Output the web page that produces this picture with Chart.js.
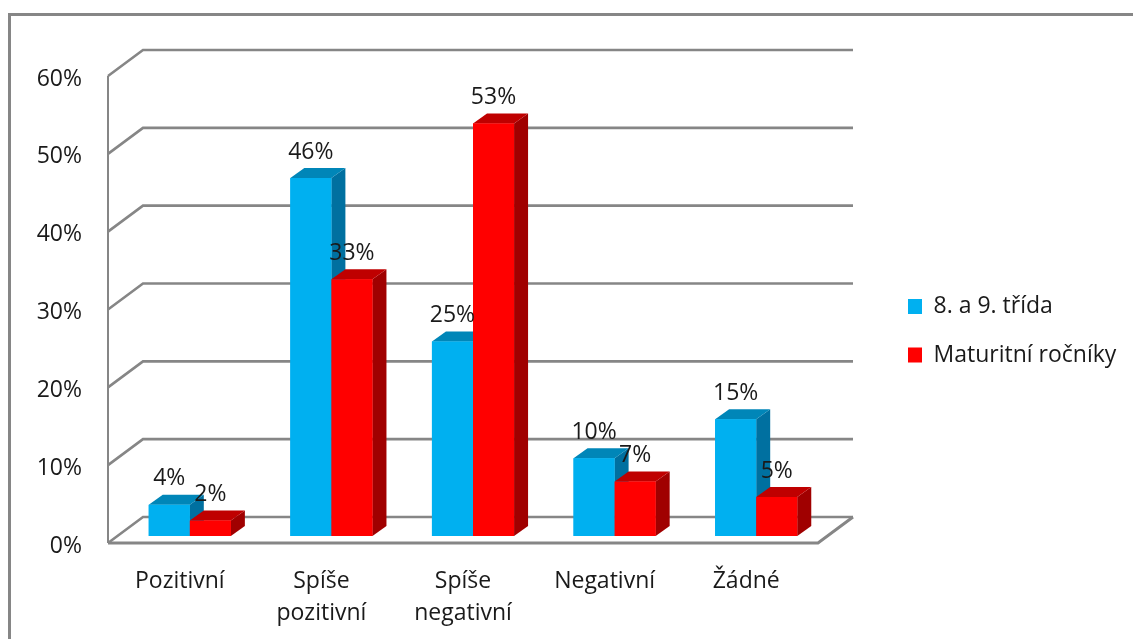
<!DOCTYPE html>
<html>
<head>
<meta charset="utf-8">
<script src="https://cdn.jsdelivr.net/npm/chart.js@4"></script>
<style>
  html, body { margin: 0; padding: 0; background: #fff; }
  canvas { display: block; }
</style>
</head>
<body>
<canvas id="chart" width="1133" height="639"></canvas>
<script>
var categories = ['Pozitivní', ['Spíše', 'pozitivní'], ['Spíše', 'negativní'], 'Negativní', 'Žádné'];
var seriesNames = ['8. a 9. třída', 'Maturitní ročníky'];
var grade89 = [4, 46, 25, 10, 15];
var graduating = [2, 33, 53, 7, 5];
var yTicks = [0, 10, 20, 30, 40, 50, 60];

var FONT = '"Open Sans"';
var FONT_SIZE = 23;
var GRID = '#868686';
var TEXT = '#1a1a1a';
var faces = [
    {front: '#00B0F0', top: '#0086B8', side: '#0070A0'},
    {front: '#FF0000', top: '#BF0000', side: '#A00000'}
];

function poly(ctx, pts, color) {
    ctx.fillStyle = color;
    ctx.beginPath();
    ctx.moveTo(pts[0][0], pts[0][1]);
    for (var i = 1; i < pts.length; i++) ctx.lineTo(pts[i][0], pts[i][1]);
    ctx.closePath();
    ctx.fill();
}

// frame and the 3D walls behind the bars
var wallsPlugin = {
    id: 'walls',
    beforeDatasetsDraw: function(chart) {
        var ctx = chart.ctx, y = chart.scales.y, area = chart.chartArea;
        var fl = area.left - 11, fr = area.right - 9;
        ctx.save();
        ctx.strokeStyle = GRID;
        ctx.lineWidth = 3;
        ctx.beginPath();
        ctx.moveTo(1133, 14.5);
        ctx.lineTo(9.5, 14.5);
        ctx.lineTo(9.5, 639);
        ctx.stroke();

        ctx.lineWidth = 2.6;
        yTicks.forEach(function(v) {
            var fy = y.getPixelForValue(v) + 7;
            ctx.beginPath();
            ctx.moveTo(fl, fy);
            ctx.lineTo(fl + 35, fy - 26);
            ctx.lineTo(fr + 35, fy - 26);
            ctx.stroke();
        });
        var y0 = y.getPixelForValue(0) + 7, y60 = y.getPixelForValue(60) + 7;
        ctx.lineWidth = 2;
        ctx.beginPath();
        ctx.moveTo(fl, y60);
        ctx.lineTo(fl, y0);
        ctx.stroke();
        ctx.lineWidth = 3;
        ctx.beginPath();
        ctx.moveTo(fl, y0);
        ctx.lineTo(fr, y0);
        ctx.lineTo(fr + 35, y0 - 26);
        ctx.stroke();
        ctx.restore();
    }
};

// side and top faces, drawn series by series so red sits over the blue side
var barsPlugin = {
    id: 'bars3d',
    afterDatasetsDraw: function(chart) {
        var ctx = chart.ctx;
        var dx = 14, dy = -10;
        ctx.save();
        chart.data.datasets.forEach(function(ds, i) {
            chart.getDatasetMeta(i).data.forEach(function(bar) {
                var l = bar.x - bar.width / 2, r = bar.x + bar.width / 2;
                poly(ctx, [[r, bar.y], [r + dx, bar.y + dy], [r + dx, bar.base + dy], [r, bar.base]], faces[i].side);
                poly(ctx, [[l, bar.y], [l + dx, bar.y + dy], [r + dx, bar.y + dy], [r, bar.y]], faces[i].top);
                bar.draw(ctx);
            });
        });
        ctx.font = FONT_SIZE + 'px ' + FONT;
        ctx.fillStyle = TEXT;
        ctx.textAlign = 'center';
        ctx.textBaseline = 'middle';
        chart.data.datasets.forEach(function(ds, i) {
            chart.getDatasetMeta(i).data.forEach(function(bar, j) {
                ctx.fillText(ds.data[j] + '%', bar.x, bar.y - 26);
            });
        });
        ctx.restore();
    }
};

var legendPlugin = {
    id: 'legendPlace',
    afterLayout: function(chart) {
        var lg = chart.legend;
        lg.left = 882.5;
        lg.right = 1133;
        lg.top = 269.5;
        lg.bottom = 639;
    }
};

new Chart(document.getElementById('chart'), {
    type: 'bar',
    data: {
        labels: categories,
        datasets: [
            {label: seriesNames[0], data: grade89, backgroundColor: faces[0].front},
            {label: seriesNames[1], data: graduating, backgroundColor: faces[1].front}
        ]
    },
    options: {
        responsive: false,
        animation: false,
        layout: {padding: {top: 69, right: 206, bottom: 0, left: 0}},
        datasets: {bar: {categoryPercentage: 0.58, barPercentage: 1}},
        plugins: {
            tooltip: {enabled: false},
            legend: {
                position: 'right',
                align: 'start',
                maxWidth: 100,
                labels: {
                    boxWidth: 14,
                    boxHeight: 15,
                    padding: 25.5,
                    color: TEXT,
                    font: {family: FONT, size: FONT_SIZE}
                }
            }
        },
        scales: {
            x: {
                afterFit: function(s) { s.height = 103; },
                grid: {display: false, drawTicks: false},
                border: {display: false},
                ticks: {
                    autoSkip: false,
                    maxRotation: 0,
                    labelOffset: -10,
                    padding: 30,
                    color: TEXT,
                    font: {family: FONT, size: FONT_SIZE, lineHeight: 1.37}
                }
            },
            y: {
                min: 0,
                max: 60,
                afterFit: function(s) { s.width = 119; },
                grid: {display: false, drawTicks: false},
                border: {display: false},
                ticks: {
                    stepSize: 10,
                    labelOffset: 10,
                    padding: 37,
                    color: TEXT,
                    font: {family: FONT, size: FONT_SIZE},
                    callback: function(v) { return v + '%'; }
                }
            }
        }
    },
    plugins: [wallsPlugin, barsPlugin, legendPlugin]
});
</script>
</body>
</html>
